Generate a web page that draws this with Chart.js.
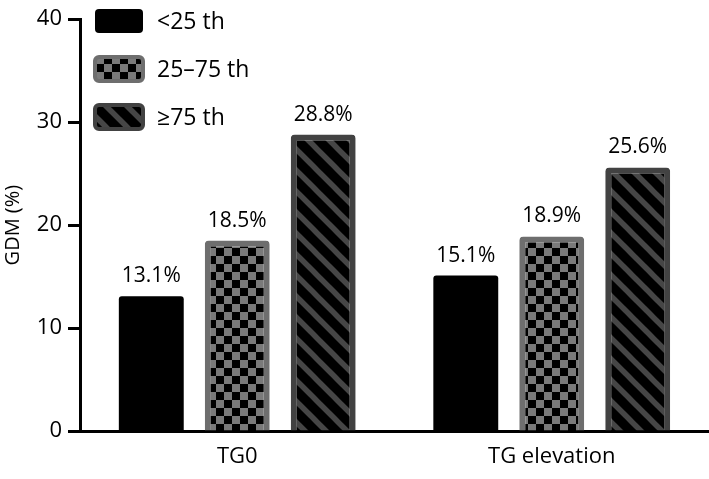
<!DOCTYPE html>
<html lang="en">
<head>
  <meta charset="UTF-8" />
  <title>GDM by TG percentile</title>
  <script src="https://cdn.jsdelivr.net/npm/chart.js"></script>
  <style>
    html, body { margin: 0; padding: 0; background: #fff; }
    #wrap { width: 709px; height: 479px; }
  </style>
</head>
<body>
  <div id="wrap"><canvas id="chart" width="709" height="479"></canvas></div>

  <script>
    // data
    const groups = ['TG0', 'TG elevation'];
    const seriesNames = ['<25 th', '25\u201375 th', '\u226575 th'];
    const below25 = [13.1, 15.1];
    const mid2575 = [18.5, 18.9];
    const above75 = [28.8, 25.6];
    const yTicks = [0, 10, 20, 30, 40];

    const FONT = '"Open Sans", "Noto Sans", sans-serif';

    // fill patterns
    function checker() {
      const c = document.createElement('canvas');
      c.width = 16; c.height = 16;
      const g = c.getContext('2d');
      g.fillStyle = '#7a7a7a';
      g.fillRect(0, 0, 16, 16);
      g.fillStyle = '#000';
      g.fillRect(0, 0, 8, 8);
      g.fillRect(8, 8, 8, 8);
      return g.createPattern(c, 'repeat');
    }

    function hatch() {
      const s = 21;
      const c = document.createElement('canvas');
      c.width = s; c.height = s;
      const g = c.getContext('2d');
      g.fillStyle = '#000';
      g.fillRect(0, 0, s, s);
      g.strokeStyle = '#464646';
      g.lineWidth = 5.5;
      for (let k = -1; k <= 1; k++) {
        g.beginPath();
        g.moveTo(k * s - s, -s);
        g.lineTo(k * s + 2 * s, 2 * s);
        g.stroke();
      }
      return g.createPattern(c, 'repeat');
    }

    // labels above bars
    const valueLabels = {
      id: 'valueLabels',
      afterDatasetsDraw(chart) {
        const ctx = chart.ctx;
        ctx.save();
        ctx.font = '21px ' + FONT;
        ctx.fillStyle = '#000';
        ctx.textAlign = 'center';
        ctx.textBaseline = 'alphabetic';
        chart.data.datasets.forEach((ds, i) => {
          chart.getDatasetMeta(i).data.forEach((bar, j) => {
            ctx.fillText(ds.data[j].toFixed(1) + '%', bar.x, bar.y - 14);
          });
        });
        ctx.restore();
      }
    };

    // legend boxes in the top left corner
    const boxLegend = {
      id: 'boxLegend',
      afterDraw(chart) {
        const ctx = chart.ctx;
        const x0 = chart.chartArea.left + 13;
        ctx.save();
        chart.data.datasets.forEach((ds, i) => {
          const y = 7 + i * 48;
          ctx.beginPath();
          ctx.roundRect(x0 + 2, y + 2, 48, 24, 4);
          ctx.fillStyle = ds.backgroundColor;
          ctx.fill();
          if (ds.borderWidth) {
            ctx.lineWidth = 4;
            ctx.strokeStyle = ds.borderColor;
            ctx.stroke();
          }
          ctx.font = '23px ' + FONT;
          ctx.fillStyle = '#000';
          ctx.textAlign = 'left';
          ctx.textBaseline = 'middle';
          ctx.fillText(ds.label, x0 + 64, y + 15);
        });
        ctx.restore();
      }
    };

    new Chart(document.getElementById('chart'), {
      type: 'bar',
      data: {
        labels: groups,
        datasets: [
          { label: seriesNames[0], data: below25, backgroundColor: '#000', borderColor: '#000', borderWidth: 0, borderRadius: 3 },
          { label: seriesNames[1], data: mid2575, backgroundColor: checker(), borderColor: '#6e6e6e', borderWidth: 6, borderRadius: 4 },
          { label: seriesNames[2], data: above75, backgroundColor: hatch(), borderColor: '#424242', borderWidth: 6, borderRadius: 4 }
        ]
      },
      options: {
        responsive: false,
        animation: false,
        layout: { padding: { top: 14, right: 0, bottom: 0, left: 0 } },
        categoryPercentage: 0.82,
        barPercentage: 0.755,
        plugins: {
          legend: { display: false },
          tooltip: { enabled: false }
        },
        scales: {
          x: {
            afterFit: s => { s.height = 48; },
            grid: { display: false, drawTicks: false },
            border: { display: true, color: '#000', width: 3 },
            ticks: { color: '#000', font: { family: FONT, size: 22 }, padding: 13 }
          },
          y: {
            min: 0,
            max: 40,
            afterFit: s => { s.width = 80; },
            afterBuildTicks: s => { s.ticks = yTicks.map(v => ({ value: v })); },
            grid: { drawOnChartArea: false, drawTicks: true, tickLength: 12, tickWidth: 3, tickColor: '#000' },
            border: { display: true, color: '#000', width: 3 },
            ticks: { color: '#000', font: { family: FONT, size: 22 }, padding: 6 },
            title: { display: true, text: 'GDM (%)', color: '#000', font: { family: FONT, size: 20 }, padding: { top: 1, bottom: 0 } }
          }
        }
      },
      plugins: [valueLabels, boxLegend]
    });
  </script>
</body>
</html>
